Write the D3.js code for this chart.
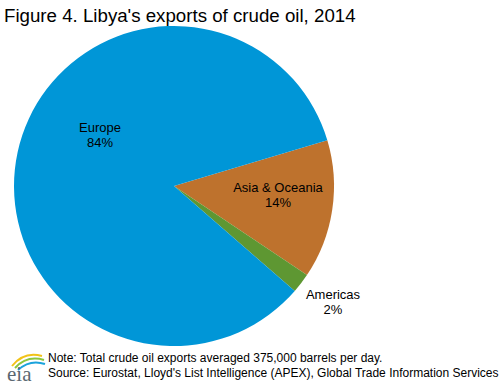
<!DOCTYPE html>
<html><head><meta charset="utf-8">
<script src="https://cdn.jsdelivr.net/npm/d3@7"></script>
<style>body{margin:0;background:#fff}svg{display:block;font-family:"Liberation Sans",Arial,sans-serif}</style>
</head><body><svg id="c" width="502" height="385"></svg>
<script>
const categories = ["Asia & Oceania", "Americas", "Europe"];
const values = [14, 2, 84];
const labels = ["14%", "2%", "84%"];
const colors = ["#BE722D", "#5E9732", "#0096D7"];

const svg = d3.select("#c");
svg.append("text").attr("x", 4).attr("y", 22).attr("font-size", 18.7).attr("fill", "#000")
  .text("Figure 4. Libya's exports of crude oil, 2014");

const cx = 174, cy = 186, r = 160;
const start = 73.4 * Math.PI / 180;
const pie = d3.pie().sort(null).startAngle(start).endAngle(start + 2 * Math.PI);
const arcs = pie(values);
const arc = d3.arc().innerRadius(0).outerRadius(r);
const g = svg.append("g").attr("transform", `translate(${cx},${cy})`);
g.selectAll("path").data(arcs).join("path").attr("d", arc)
  .attr("fill", (d, i) => colors[i]).attr("stroke", "none");

const labelPos = [[104, 13], [159, 120], [-74, -47]];
arcs.forEach((d, i) => {
  const t = g.append("text").attr("text-anchor", "middle").attr("font-size", 13).attr("fill", "#000");
  t.append("tspan").attr("x", labelPos[i][0]).attr("y", labelPos[i][1] - 7).text(categories[i]);
  t.append("tspan").attr("x", labelPos[i][0]).attr("y", labelPos[i][1] + 8).text(labels[i]);
});

// footnotes
svg.append("text").attr("x", 48).attr("y", 362).attr("font-size", 12).text("Note: Total crude oil exports averaged 375,000 barrels per day.");
svg.append("text").attr("x", 48).attr("y", 377).attr("font-size", 12).text("Source: Eurostat, Lloyd's List Intelligence (APEX),  Global Trade Information Services");

// logo
const lg = svg.append("g");
lg.append("path").attr("d", "M12,366 Q24,351 42,356").attr("fill", "none").attr("stroke", "#F2C318").attr("stroke-width", 2);
lg.append("path").attr("d", "M15,368 Q27,355 44,360").attr("fill", "none").attr("stroke", "#8DC63F").attr("stroke-width", 2);
lg.append("path").attr("d", "M18,370 Q30,359 45,364").attr("fill", "none").attr("stroke", "#1BA3DC").attr("stroke-width", 2);
lg.append("text").attr("x", 7).attr("y", 381).attr("font-family", "'Liberation Serif',serif").attr("font-size", 21).attr("fill", "#5a6770").text("eia");
</script></body></html>
